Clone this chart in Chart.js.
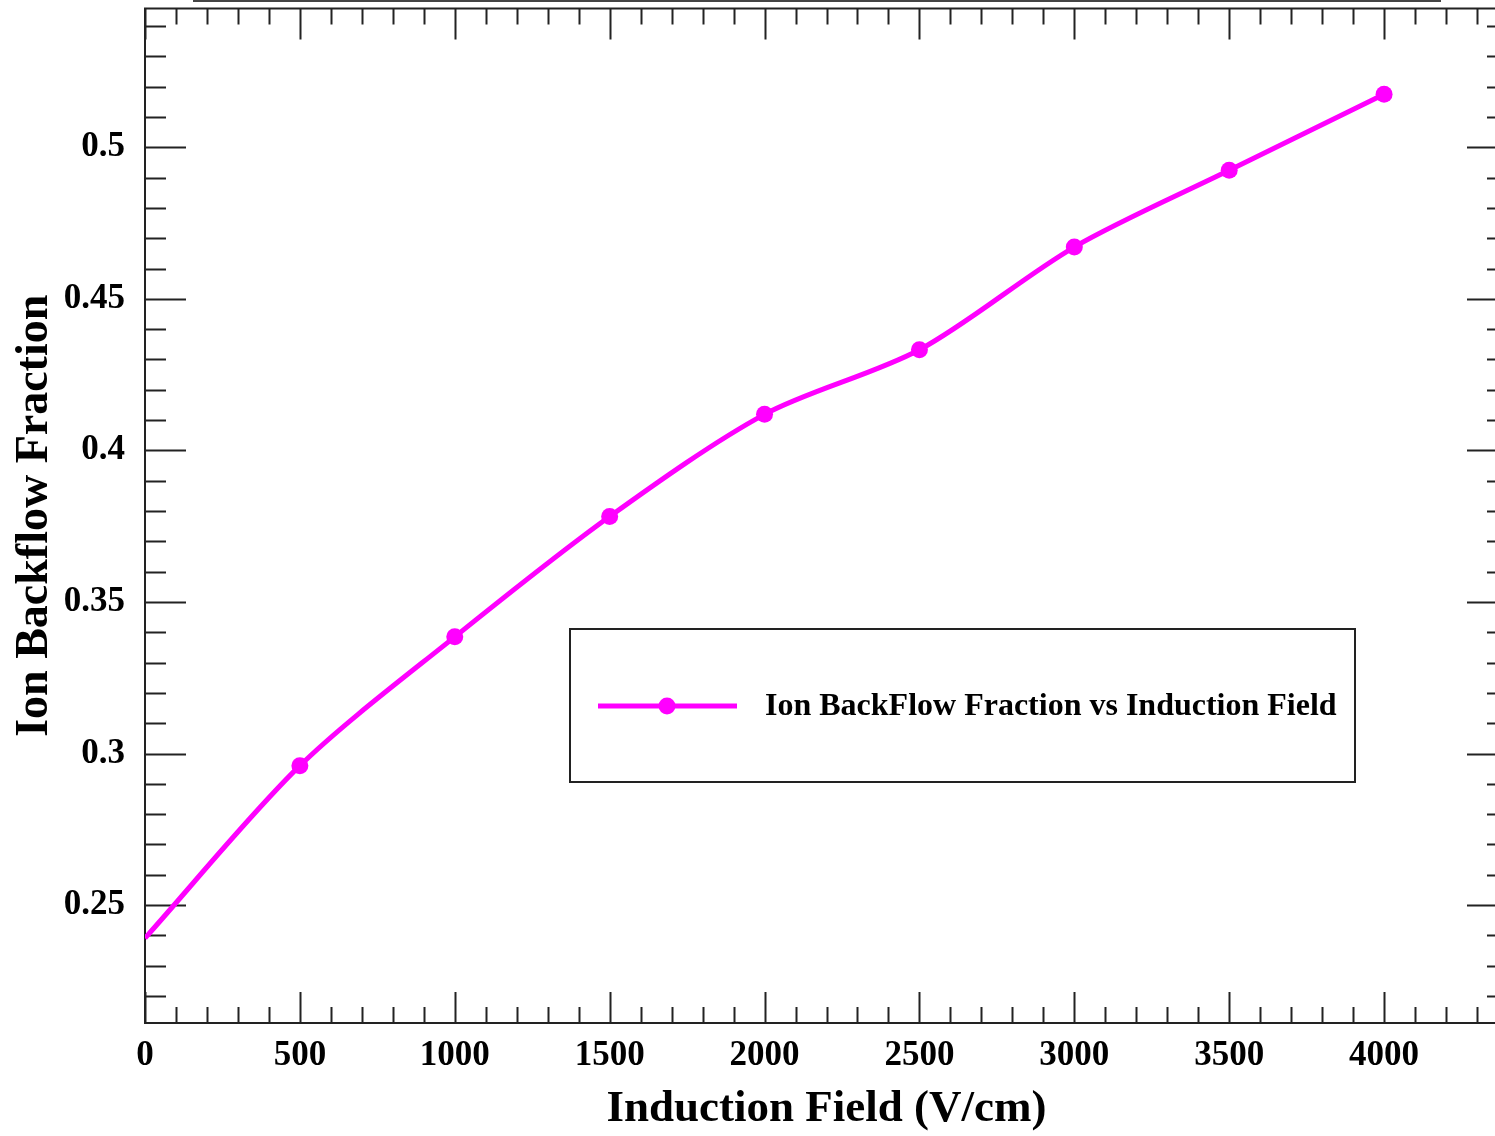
<!DOCTYPE html>
<html>
<head>
<meta charset="utf-8">
<title>Ion Backflow Fraction vs Induction Field</title>
<script src="https://cdn.jsdelivr.net/npm/chart.js@4/dist/chart.umd.min.js"></script>
<style>
  html, body { margin: 0; padding: 0; background: #fff; overflow: hidden; }
  #wrap { width: 1495px; height: 1136px; overflow: hidden; position: relative; }
  canvas { display: block; }
</style>
</head>
<body>
<div id="wrap"><canvas id="ibfChart" width="1520" height="1136"></canvas></div>
<script>
// Induction field scan (V/cm) and measured ion backflow fraction
const inductionField = [0, 500, 1000, 1500, 2000, 2500, 3000, 3500, 4000];
const ibfFraction = [0.2391, 0.2960, 0.3385, 0.3782, 0.4119, 0.4332, 0.4671, 0.4924, 0.5175];
// first point only anchors the curve at the axis, no marker there
const markerRadius = [0, 8.5, 8.5, 8.5, 8.5, 8.5, 8.5, 8.5, 8.5];

const xTickValues = [0, 500, 1000, 1500, 2000, 2500, 3000, 3500, 4000];
const yTickValues = [0.25, 0.3, 0.35, 0.4, 0.45, 0.5];
const xRange = [0, 4400];
const yRange = [0.2111, 0.5458];

const seriesLabel = 'Ion BackFlow Fraction vs Induction Field';
const MAGENTA = '#ff00ff';
const INK = '#222';
const SERIF = '"Liberation Serif", "Times New Roman", serif';

// ROOT style frame: box on all four sides, ticks pointing inwards
const frameTicks = {
  id: 'frameTicks',
  beforeDatasetsDraw(chart) {
    const { ctx, chartArea: a, scales: { x, y } } = chart;
    ctx.save();
    ctx.strokeStyle = INK;
    ctx.lineWidth = 2;
    ctx.strokeRect(a.left, a.top, a.right - a.left, a.bottom - a.top);

    ctx.beginPath();
    for (let v = xRange[0]; v <= xRange[1]; v += 100) {
      const px = Math.round(x.getPixelForValue(v)) + 0.5;
      const len = v % 500 === 0 ? 31 : 16;
      ctx.moveTo(px, a.bottom); ctx.lineTo(px, a.bottom - len);
      ctx.moveTo(px, a.top); ctx.lineTo(px, a.top + len);
    }
    for (let i = 22; i <= 54; i++) {
      const py = Math.round(y.getPixelForValue(i / 100)) + 0.5;
      const len = i % 5 === 0 ? 41 : 21;
      ctx.moveTo(a.left, py); ctx.lineTo(a.left + len, py);
      ctx.moveTo(a.right, py); ctx.lineTo(a.right - len, py);
    }
    ctx.stroke();

    // lower edge of the title pave above the frame
    ctx.fillStyle = '#444';
    ctx.fillRect(193, 0, 1248, 2);
    ctx.restore();
  }
};

// legend box drawn inside the frame
const boxLegend = {
  id: 'boxLegend',
  afterDatasetsDraw(chart) {
    const { ctx } = chart;
    const ds = chart.data.datasets[0];
    ctx.save();
    ctx.strokeStyle = INK;
    ctx.lineWidth = 2;
    ctx.strokeRect(570, 629, 785, 153);

    ctx.strokeStyle = ds.borderColor;
    ctx.lineWidth = ds.borderWidth;
    ctx.beginPath();
    ctx.moveTo(598, 706); ctx.lineTo(737, 706);
    ctx.stroke();
    ctx.fillStyle = ds.pointBackgroundColor;
    ctx.beginPath();
    ctx.arc(667, 706, 8.5, 0, Math.PI * 2);
    ctx.fill();

    ctx.fillStyle = '#000';
    ctx.font = 'bold 32px ' + SERIF;
    ctx.textBaseline = 'middle';
    ctx.textAlign = 'left';
    ctx.fillText(ds.label, 765, 707);
    ctx.restore();
  }
};

const tickFont = { family: SERIF, weight: 'bold', size: 35 };

new Chart(document.getElementById('ibfChart'), {
  type: 'line',
  data: {
    labels: inductionField,
    datasets: [{
      label: seriesLabel,
      data: inductionField.map((f, i) => ({ x: f, y: ibfFraction[i] })),
      borderColor: MAGENTA,
      backgroundColor: MAGENTA,
      pointBackgroundColor: MAGENTA,
      pointBorderWidth: 0,
      pointRadius: markerRadius,
      borderWidth: 5,
      tension: 0.3,
      fill: false
    }]
  },
  options: {
    responsive: false,
    animation: false,
    devicePixelRatio: 1,
    layout: { padding: { top: 8, right: 12, bottom: 0, left: 0 } },
    plugins: { legend: { display: false }, tooltip: { enabled: false } },
    scales: {
      x: {
        type: 'linear',
        min: xRange[0],
        max: xRange[1],
        afterBuildTicks: s => { s.ticks = xTickValues.map(v => ({ value: v })); },
        afterFit: s => { s.height = 113; s.paddingLeft = 0; s.paddingRight = 0; },
        grid: { display: false, tickLength: 0 },
        border: { display: false },
        ticks: { font: tickFont, color: '#000', padding: 12, maxRotation: 0, autoSkip: false, callback: v => String(v) },
        title: { display: true, text: 'Induction Field (V/cm)', color: '#000', padding: { top: 0, bottom: 0 },
                 font: { family: SERIF, weight: 'bold', size: 45 } }
      },
      y: {
        type: 'linear',
        min: yRange[0],
        max: yRange[1],
        afterBuildTicks: s => { s.ticks = yTickValues.map(v => ({ value: v })); },
        afterFit: s => { s.width = 145; s.paddingTop = 0; s.paddingBottom = 0; },
        grid: { display: false, tickLength: 0 },
        border: { display: false },
        ticks: { font: tickFont, color: '#000', padding: 20, autoSkip: false, callback: v => String(v) },
        title: { display: true, text: 'Ion Backflow Fraction', color: '#000', padding: { top: 8, bottom: 0 },
                 font: { family: SERIF, weight: 'bold', size: 46 } }
      }
    }
  },
  plugins: [frameTicks, boxLegend]
});
</script>
</body>
</html>
